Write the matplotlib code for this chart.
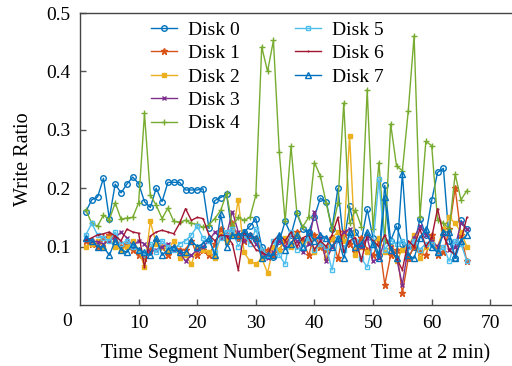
import numpy as np
import matplotlib
matplotlib.use('Agg')
import matplotlib.pyplot as plt

# segment numbers 1..66
segments = np.arange(1, 67)

disk0 = [0.160, 0.180, 0.185, 0.217, 0.148, 0.207, 0.192, 0.207, 0.219, 0.208,
         0.177, 0.167, 0.200, 0.177, 0.210, 0.210, 0.210, 0.197, 0.197, 0.197,
         0.199, 0.131, 0.179, 0.184, 0.190, 0.120, 0.115, 0.125, 0.135, 0.148,
         0.100, 0.086, 0.082, 0.110, 0.143, 0.120, 0.157, 0.130, 0.125, 0.151,
         0.183, 0.177, 0.130, 0.200, 0.106, 0.169, 0.125, 0.110, 0.164, 0.115,
         0.085, 0.205, 0.110, 0.135, 0.105, 0.080, 0.100, 0.148, 0.120, 0.179,
         0.227, 0.234, 0.110, 0.080, 0.145, 0.130]
disk1 = [0.110, 0.105, 0.100, 0.115, 0.120, 0.115, 0.100, 0.105, 0.095, 0.085,
         0.080, 0.095, 0.110, 0.100, 0.085, 0.100, 0.095, 0.095, 0.110, 0.085,
         0.095, 0.085, 0.105, 0.130, 0.110, 0.140, 0.115, 0.110, 0.120, 0.115,
         0.090, 0.095, 0.085, 0.095, 0.110, 0.105, 0.125, 0.110, 0.085, 0.120,
         0.100, 0.095, 0.115, 0.080, 0.125, 0.105, 0.090, 0.115, 0.095, 0.085,
         0.110, 0.035, 0.085, 0.095, 0.020, 0.080, 0.100, 0.090, 0.085, 0.120,
         0.085, 0.090, 0.130, 0.200, 0.120, 0.075]
disk2 = [0.100, 0.105, 0.110, 0.100, 0.115, 0.100, 0.095, 0.100, 0.110, 0.095,
         0.065, 0.143, 0.105, 0.100, 0.095, 0.110, 0.080, 0.085, 0.070, 0.100,
         0.095, 0.090, 0.080, 0.120, 0.110, 0.120, 0.180, 0.090, 0.075, 0.070,
         0.080, 0.055, 0.100, 0.095, 0.115, 0.100, 0.120, 0.105, 0.110, 0.090,
         0.105, 0.080, 0.115, 0.125, 0.110, 0.290, 0.085, 0.100, 0.090, 0.105,
         0.115, 0.090, 0.100, 0.075, 0.095, 0.100, 0.120, 0.080, 0.100, 0.110,
         0.100, 0.130, 0.150, 0.140, 0.125, 0.100]
disk3 = [0.115, 0.110, 0.108, 0.105, 0.110, 0.115, 0.125, 0.115, 0.100, 0.110,
         0.105, 0.090, 0.095, 0.100, 0.105, 0.095, 0.090, 0.075, 0.085, 0.095,
         0.100, 0.110, 0.125, 0.115, 0.120, 0.160, 0.125, 0.110, 0.120, 0.105,
         0.090, 0.080, 0.090, 0.110, 0.100, 0.120, 0.110, 0.090, 0.105, 0.160,
         0.115, 0.075, 0.100, 0.110, 0.125, 0.130, 0.110, 0.100, 0.115, 0.075,
         0.080, 0.110, 0.100, 0.080, 0.035, 0.100, 0.115, 0.135, 0.120, 0.110,
         0.100, 0.120, 0.095, 0.100, 0.140, 0.130]
disk4 = [0.163, 0.140, 0.135, 0.154, 0.146, 0.175, 0.147, 0.149, 0.150, 0.175,
         0.328, 0.188, 0.171, 0.148, 0.166, 0.143, 0.142, 0.145, 0.140, 0.138,
         0.133, 0.137, 0.148, 0.162, 0.191, 0.135, 0.150, 0.145, 0.150, 0.188,
         0.442, 0.400, 0.453, 0.262, 0.143, 0.272, 0.157, 0.134, 0.150, 0.244,
         0.221, 0.175, 0.128, 0.174, 0.346, 0.140, 0.163, 0.134, 0.369, 0.130,
         0.244, 0.110, 0.310, 0.238, 0.230, 0.332, 0.461, 0.151, 0.280, 0.273,
         0.146, 0.140, 0.130, 0.224, 0.180, 0.196]
disk5 = [0.120, 0.140, 0.120, 0.115, 0.110, 0.125, 0.105, 0.110, 0.100, 0.095,
         0.085, 0.105, 0.090, 0.110, 0.100, 0.095, 0.105, 0.110, 0.120, 0.135,
         0.115, 0.110, 0.090, 0.115, 0.125, 0.130, 0.100, 0.120, 0.105, 0.130,
         0.095, 0.085, 0.110, 0.085, 0.070, 0.125, 0.095, 0.100, 0.115, 0.095,
         0.105, 0.100, 0.060, 0.115, 0.095, 0.120, 0.110, 0.080, 0.065, 0.105,
         0.215, 0.095, 0.110, 0.105, 0.110, 0.100, 0.110, 0.095, 0.105, 0.105,
         0.090, 0.100, 0.075, 0.110, 0.105, 0.075]
disk6 = [0.110, 0.115, 0.120, 0.122, 0.125, 0.118, 0.110, 0.130, 0.125, 0.123,
         0.065, 0.118, 0.125, 0.128, 0.125, 0.122, 0.140, 0.165, 0.145, 0.150,
         0.148, 0.120, 0.110, 0.120, 0.118, 0.105, 0.060, 0.125, 0.110, 0.095,
         0.090, 0.085, 0.110, 0.120, 0.110, 0.125, 0.100, 0.115, 0.120, 0.095,
         0.110, 0.100, 0.120, 0.150, 0.090, 0.110, 0.115, 0.075, 0.120, 0.110,
         0.100, 0.120, 0.095, 0.080, 0.060, 0.110, 0.100, 0.130, 0.100, 0.115,
         0.165, 0.120, 0.095, 0.085, 0.110, 0.150]
disk7 = [0.115, 0.110, 0.100, 0.100, 0.085, 0.110, 0.095, 0.090, 0.105, 0.095,
         0.090, 0.085, 0.115, 0.085, 0.095, 0.100, 0.090, 0.090, 0.110, 0.100,
         0.105, 0.115, 0.085, 0.155, 0.100, 0.120, 0.120, 0.125, 0.120, 0.115,
         0.080, 0.085, 0.085, 0.120, 0.095, 0.105, 0.120, 0.100, 0.125, 0.110,
         0.120, 0.115, 0.100, 0.115, 0.080, 0.125, 0.100, 0.105, 0.125, 0.105,
         0.080, 0.185, 0.095, 0.080, 0.225, 0.085, 0.080, 0.115, 0.130, 0.100,
         0.090, 0.125, 0.125, 0.080, 0.110, 0.120]

labels = ['Disk 0', 'Disk 1', 'Disk 2', 'Disk 3', 'Disk 4', 'Disk 5', 'Disk 6', 'Disk 7']
series = [disk0, disk1, disk2, disk3, disk4, disk5, disk6, disk7]
colors = ['#0072BD', '#D95319', '#EDB120', '#7E2F8E', '#77AC30', '#4DBEEE', '#A2142F', '#0072BD']
markers = ['o', '*', 's', 'x', '+', 's', '.', '^']
filled = [False, True, True, True, True, False, True, False]
msizes = [4, 4.5, 3, 3.5, 4.5, 3.5, 1, 4]

plt.rcParams['font.family'] = ['Liberation Serif', 'DejaVu Serif']

fig = plt.figure(figsize=(5.12, 3.66), dpi=100)
ax = fig.add_axes([80 / 512, 1 - 305 / 366, 1 - 80 / 512, (305 - 13) / 366])

lines = []
for vals, lab, c, m, f, ms in zip(series, labels, colors, markers, filled, msizes):
    ln, = ax.plot(segments, vals, color=c, lw=1.0, marker=m, markersize=ms,
                  markerfacecolor=c if f else 'none', markeredgecolor=c,
                  markeredgewidth=1.0, label=lab)
    lines.append(ln)

ax.set_xlim(0, (512 - 80.1) / 5.86)
ax.set_ylim(0, 0.5)
ax.set_xticks([10, 20, 30, 40, 50, 60, 70])
ax.set_yticks([0.1, 0.2, 0.3, 0.4, 0.5])
ax.set_yticklabels(['0.1', '0.2', '0.3', '0.4', '0.5'])
ax.tick_params(direction='in', length=4, width=1, color='#555555',
               labelsize=14, pad=7)
for side in ['left', 'bottom', 'top']:
    ax.spines[side].set_color('#444444')
    ax.spines[side].set_linewidth(1.0)
ax.spines['right'].set_visible(False)

# shared origin label
fig.text(67 / 512, 1 - 322 / 366, '0', ha='center', va='center', fontsize=14)

ax.set_xlabel('Time Segment Number(Segment Time at 2 min)', fontsize=14.5, labelpad=8)
ax.set_ylabel('Write Ratio', fontsize=14.5, labelpad=9)

leg_kw = dict(loc='upper left', bbox_transform=fig.transFigure, frameon=False,
              fontsize=14, handlelength=1.35, handletextpad=0.55,
              labelspacing=0.3, borderpad=0, borderaxespad=0)
leg1 = ax.legend(lines[:5], labels[:5], bbox_to_anchor=(151 / 512, 1 - 21 / 366), **leg_kw)
ax.add_artist(leg1)
ax.legend(lines[5:], labels[5:], bbox_to_anchor=(295 / 512, 1 - 21 / 366), **leg_kw)

fig.savefig('out.png', dpi=100)
